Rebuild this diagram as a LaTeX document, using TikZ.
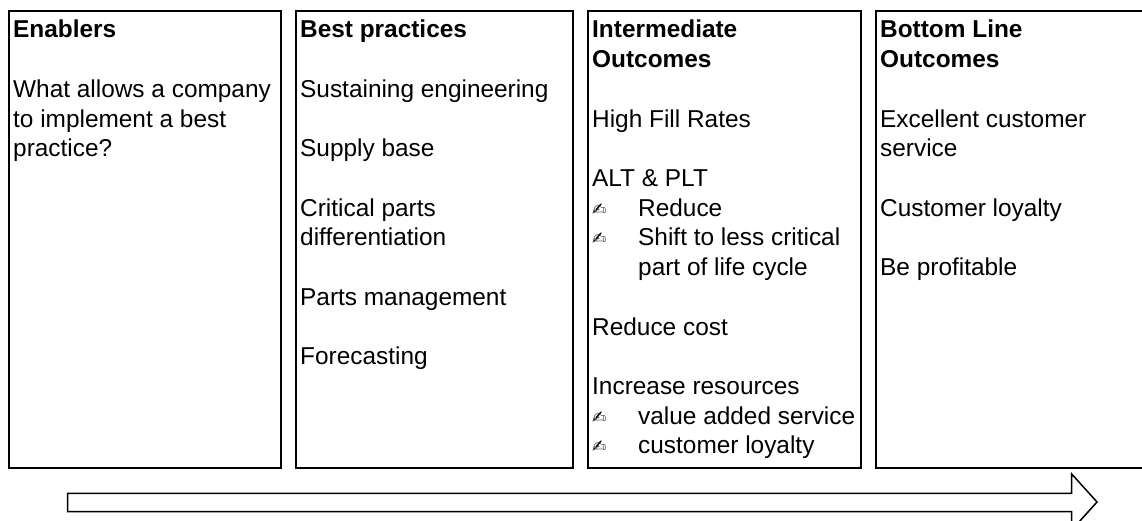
\documentclass[tikz,border=0pt]{standalone}
\usepackage{fontspec}
\setmainfont{Liberation Sans}
\newfontfamily\symfont{DejaVu Sans}
\begin{document}
\begin{tikzpicture}[x=1pt,y=-1pt,
  panel/.style={draw=black,line width=2pt},
  flow/.style={draw=black,line width=1.5pt,line join=miter},
  txt/.style={anchor=base west,inner sep=0pt,font=\fontsize{24.4}{29.7}\selectfont},
  head/.style={txt,font=\fontsize{24.4}{29.7}\selectfont\bfseries},
  pen/.style={anchor=base west,inner sep=0pt,font=\symfont\fontsize{17}{17}\selectfont}]
\useasboundingbox (0,0) rectangle (1142,521);
\clip (0,0) rectangle (1142,521);

% four column panels
\draw[panel] (9,11) rectangle (281,468.3);
\draw[panel] (296,11) rectangle (573,468.3);
\draw[panel] (588,11) rectangle (861,468.3);
\draw[panel] (876,11) rectangle (1150,468.3);

% column 1
\node[head] (en)  at (13,38) {Enablers};
\node[txt]  (en1) at (13,{38+2*29.7}) {What allows a company};
\node[txt]  (en2) at (13,{38+3*29.7}) {to implement a best};
\node[txt]  (en3) at (13,{38+4*29.7}) {practice?};

% column 2
\node[head] (bp)  at (300,38) {Best practices};
\node[txt]  (bp1) at (300,{38+2*29.7}) {Sustaining engineering};
\node[txt]  (bp2) at (300,{38+4*29.7}) {Supply base};
\node[txt]  (bp3) at (300,{38+6*29.7}) {Critical parts};
\node[txt]  (bp4) at (300,{38+7*29.7}) {differentiation};
\node[txt]  (bp5) at (300,{38+9*29.7}) {Parts management};
\node[txt]  (bp6) at (300,{38+11*29.7}) {Forecasting};

% column 3
\node[head] (io)  at (592,38) {Intermediate};
\node[head] (io0) at (592,{38+1*29.7}) {Outcomes};
\node[txt]  (io1) at (592,{38+3*29.7}) {High Fill Rates};
\node[txt]  (io2) at (592,{38+5*29.7}) {ALT \& PLT};
\node[pen]  (p1)  at (592,{38+6*29.7-1}) {✍};
\node[txt]  (io3) at (638,{38+6*29.7}) {Reduce};
\node[pen]  (p2)  at (592,{38+7*29.7-1}) {✍};
\node[txt]  (io4) at (638,{38+7*29.7}) {Shift to less critical};
\node[txt]  (io5) at (638,{38+8*29.7}) {part of life cycle};
\node[txt]  (io6) at (592,{38+10*29.7}) {Reduce cost};
\node[txt]  (io7) at (592,{38+12*29.7}) {Increase resources};
\node[pen]  (p3)  at (592,{38+13*29.7-1}) {✍};
\node[txt]  (io8) at (638,{38+13*29.7}) {value added service};
\node[pen]  (p4)  at (592,{38+14*29.7-1}) {✍};
\node[txt]  (io9) at (638,{38+14*29.7}) {customer loyalty};

% column 4
\node[head] (bl)  at (880,38) {Bottom Line};
\node[head] (bl0) at (880,{38+1*29.7}) {Outcomes};
\node[txt]  (bl1) at (880,{38+3*29.7}) {Excellent customer};
\node[txt]  (bl2) at (880,{38+4*29.7}) {service};
\node[txt]  (bl3) at (880,{38+6*29.7}) {Customer loyalty};
\node[txt]  (bl4) at (880,{38+8*29.7}) {Be profitable};

% outline block arrow underneath
\draw[flow] (67.7,493.3) -- (1071.7,493.3) -- (1071.7,474) -- (1097,502)
  -- (1071.7,530) -- (1071.7,511.7) -- (67.7,511.7) -- cycle;
\end{tikzpicture}
\end{document}
